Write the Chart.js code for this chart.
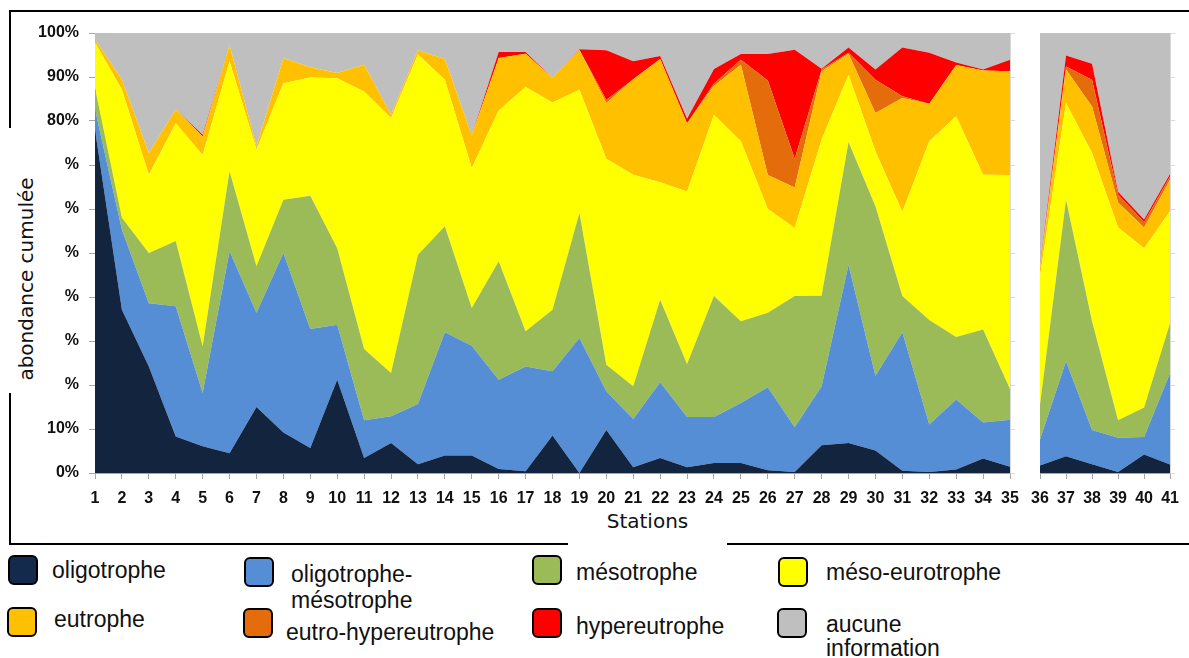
<!DOCTYPE html>
<html lang="fr">
<head>
<meta charset="UTF-8">
<title>Abondance cumulée par station</title>
<script src="https://cdn.jsdelivr.net/npm/chart.js"></script>
<style>
  html, body { margin: 0; padding: 0; background: #fff; }
  body { width: 1189px; height: 658px; position: relative; overflow: hidden; font-family: 'Liberation Sans', Arial, sans-serif; }
  #frame { position: absolute; left: 9px; top: 10px; width: 1200px; height: 531px; border: 2px solid #000; z-index: 0; }
  #main { position: absolute; left: 0; top: 0; z-index: 1; }
  #side { position: absolute; left: 1020px; top: 0; z-index: 1; }
  .axis-title { position: absolute; background: #fff; z-index: 2; font-family: 'DejaVu Sans', sans-serif; font-size: 20px; color: #111; }
  .axis-title span { position: absolute; white-space: nowrap; }
  #ytitle { left: 0; top: 128px; width: 52px; height: 265px; }
  #ytitle span { left: 26px; top: 151px; transform: translate(-50%, -50%) rotate(-90deg); }
  #xtitle { left: 568px; top: 505px; width: 159px; height: 44px; }
  #xtitle span { left: 50%; top: 16px; transform: translate(-50%, -50%); }
  .sw { position: absolute; width: 26px; height: 26px; border: 2px solid #000; border-radius: 6px; z-index: 2; }
  .lt { position: absolute; font-size: 23px; line-height: 26px; color: #111; white-space: nowrap; z-index: 2; }
</style>
</head>
<body>
  <div id="frame"></div>
  <canvas id="main" width="1030" height="520"></canvas>
  <canvas id="side" width="169" height="520"></canvas>
  <div id="ytitle" class="axis-title"><span>abondance cumulée</span></div>
  <div id="xtitle" class="axis-title"><span>Stations</span></div>

  <!-- Legend -->
  <div class="sw" style="left:8px;top:555px;background:#142a4d"></div>
  <div class="lt" style="left:52px;top:557px">oligotrophe</div>
  <div class="sw" style="left:244px;top:557px;background:#558ed5"></div>
  <div class="lt" style="left:291px;top:561px">oligotrophe-<br>mésotrophe</div>
  <div class="sw" style="left:532px;top:555px;background:#9bbb59"></div>
  <div class="lt" style="left:576px;top:559px">mésotrophe</div>
  <div class="sw" style="left:778px;top:557px;background:#ffff00"></div>
  <div class="lt" style="left:826px;top:559px">méso-eurotrophe</div>
  <div class="sw" style="left:7px;top:607px;background:#ffc000"></div>
  <div class="lt" style="left:54px;top:606px">eutrophe</div>
  <div class="sw" style="left:243px;top:608px;background:#e46c0a"></div>
  <div class="lt" style="left:286px;top:619px">eutro-hypereutrophe</div>
  <div class="sw" style="left:532px;top:608px;background:#ff0000"></div>
  <div class="lt" style="left:576px;top:613px">hypereutrophe</div>
  <div class="sw" style="left:777px;top:608px;background:#bfbfbf"></div>
  <div class="lt" style="left:826px;top:612px;line-height:24px">aucune<br>information</div>

  <script>
    const stations = ['1', '2', '3', '4', '5', '6', '7', '8', '9', '10', '11', '12', '13', '14', '15', '16', '17', '18', '19', '20',
      '21', '22', '23', '24', '25', '26', '27', '28', '29', '30', '31', '32', '33', '34', '35', '36', '37', '38', '39', '40', '41'];

    // part of each class per station (%), stacked from the bottom
    const oligotrophe = [78, 37.1, 24.2, 8.3, 6.1, 4.5, 15, 9.2, 5.7, 21.2, 3.4, 6.8, 2, 4, 4, 0.9, 0.4, 8.5, 0, 9.8,
      1.3, 3.4, 1.3, 2.3, 2.3, 0.6, 0.2, 6.3, 6.8, 5.1, 0.5, 0.2, 0.8, 3.3, 1.4, 1.7, 3.8, 2, 0.2, 4.2, 1.9];
    const oligoMeso = [4.6, 18.2, 14.4, 29.6, 12.1, 45.9, 21.4, 40.8, 27, 12.5, 8.6, 6.1, 13.7, 28, 24.9, 20.3, 23.8, 14.6, 30.7, 8.8,
      11, 17.2, 11.4, 10.4, 13.6, 18.9, 10.2, 13.4, 40.5, 17, 31.5, 10.8, 15.9, 8.2, 10.7, 5.9, 21.6, 7.8, 7.8, 4, 20.8];
    const mesotrophe = [4.9, 2.7, 11.4, 14.8, 10.6, 18.2, 10.6, 12.1, 30.3, 17.4, 16.2, 9.8, 33.9, 24.1, 8.6, 26.9, 8, 14, 28.4, 6,
      7.4, 18.8, 12.1, 27.5, 18.6, 16.9, 29.8, 20.6, 27.9, 38.5, 8.2, 23.8, 14.2, 21.1, 7, 7.9, 36.7, 24.7, 4, 6.7, 11.4];
    const mesoEutrophe = [10.4, 29.1, 17.8, 26.8, 43.5, 25, 26.5, 26.5, 26.9, 38.6, 58.5, 58, 45.5, 33.3, 31.8, 34.3, 55.5, 47.1, 28, 46.8,
      48.1, 26.7, 39.2, 41.2, 40.9, 23.6, 15.5, 35.5, 15.3, 12.5, 19.1, 40.6, 50.2, 35.2, 48.6, 29.2, 22, 38.2, 43.8, 36.2, 25.4];
    const eutrophe = [0.6, 2.3, 4.9, 3.1, 4.2, 3.7, 0.7, 5.7, 2.3, 1.2, 6.1, 0.7, 1, 4.7, 7.4, 11.9, 7.6, 5.6, 9.1, 12.7,
      21.7, 28, 15.5, 6.6, 17.4, 7.7, 9.2, 15.5, 4.8, 8.7, 25.9, 8.5, 11.6, 23.7, 23.6, 1.8, 7.6, 10.6, 5.7, 4.7, 7.2];
    const eutroHyper = [0, 0, 0, 0, 0, 0, 0, 0, 0, 0, 0, 0, 0, 0, 0, 0, 0, 0, 0, 0.7,
      0, 0, 0, 0.5, 1.1, 21.5, 6.5, 0.4, 0.2, 7.6, 0.4, 0, 0, 0, 0, 0.3, 0.7, 6.1, 1.8, 1.2, 0.7];
    const hypereutrophe = [0, 0, 0, 0, 0.4, 0, 0, 0, 0, 0, 0, 0, 0, 0, 0, 1.4, 0.4, 0, 0.1, 11.3,
      4.1, 0.7, 1, 3.3, 1.3, 6, 24.8, 0.2, 1.2, 2.3, 11.1, 11.6, 0.6, 0.2, 2.6, 0.2, 2.5, 3.6, 0.6, 0.6, 0.6];
    const aucuneInfo = [1.5, 10.6, 27.3, 17.4, 23.1, 2.7, 25.8, 5.7, 7.8, 9.1, 7.2, 18.6, 3.9, 5.9, 23.3, 4.3, 4.3, 10.2, 3.7, 3.9,
      6.4, 5.2, 19.5, 8.2, 4.8, 4.8, 3.8, 8.1, 3.3, 8.3, 3.3, 4.5, 6.7, 8.3, 6.1, 53, 5.1, 7, 36.1, 42.4, 32];

    const yTickLabels = { 100: '100%', 90: '90%', 80: '80%', 70: '%', 60: '%', 50: '%', 40: '%', 30: '%', 20: '%', 10: '10%', 0: '0%' };

    const series = [
      { label: 'oligotrophe', data: oligotrophe, color: '#13243f' },
      { label: 'oligotrophe-mésotrophe', data: oligoMeso, color: '#558ed5' },
      { label: 'mésotrophe', data: mesotrophe, color: '#9bbb59' },
      { label: 'méso-eurotrophe', data: mesoEutrophe, color: '#ffff00' },
      { label: 'eutrophe', data: eutrophe, color: '#ffc000' },
      { label: 'eutro-hypereutrophe', data: eutroHyper, color: '#e46c0a' },
      { label: 'hypereutrophe', data: hypereutrophe, color: '#ff0000' },
      { label: 'aucune information', data: aucuneInfo, color: '#bfbfbf' },
    ];

    Chart.defaults.font.family = "'Liberation Sans', Arial, sans-serif";

    function makeChart(id, from, to, showY, pad) {
      return new Chart(document.getElementById(id), {
        type: 'line',
        data: {
          labels: stations.slice(from, to),
          datasets: series.map((s, i) => ({
            label: s.label,
            data: s.data.slice(from, to),
            backgroundColor: s.color,
            borderWidth: 0,
            pointRadius: 0,
            tension: 0,
            fill: i === 0 ? 'origin' : '-1',
          })),
        },
        options: {
          responsive: false,
          animation: false,
          layout: { padding: pad },
          plugins: { legend: { display: false }, tooltip: { enabled: false } },
          scales: {
            x: {
              offset: false,
              grid: { display: true, drawOnChartArea: false, tickLength: 6, color: '#a6a6a6' },
              border: { display: true, color: '#a6a6a6' },
              ticks: { autoSkip: false, maxRotation: 0, padding: 10, color: '#111', font: { size: 16, weight: 'bold' } },
              afterFit: (s) => { s.height = 47; },
            },
            y: {
              stacked: true,
              min: 0,
              max: 100,
              display: showY,
              grid: { display: true, drawOnChartArea: false, tickLength: 6, color: '#a6a6a6' },
              border: { display: true, color: '#a6a6a6' },
              ticks: {
                stepSize: 10,
                padding: 10,
                color: '#111',
                font: { size: 16, weight: 'bold' },
                callback: (v) => yTickLabels[v],
              },
              afterFit: (s) => { s.width = showY ? 95 : 0; },
            },
            y2: {
              position: 'right',
              min: 0,
              max: 100,
              grid: { display: true, drawOnChartArea: false, tickLength: 5, color: '#d9d9d9' },
              border: { display: true, color: '#d9d9d9' },
              ticks: { display: false, stepSize: 10 },
              afterFit: (s) => { s.width = 6; },
            },
          },
        },
      });
    }

    makeChart('main', 0, 35, true, { top: 33, right: 14, left: 0, bottom: 0 });
    makeChart('side', 35, 41, false, { top: 33, right: 11, left: 20, bottom: 0 });
  </script>
</body>
</html>
